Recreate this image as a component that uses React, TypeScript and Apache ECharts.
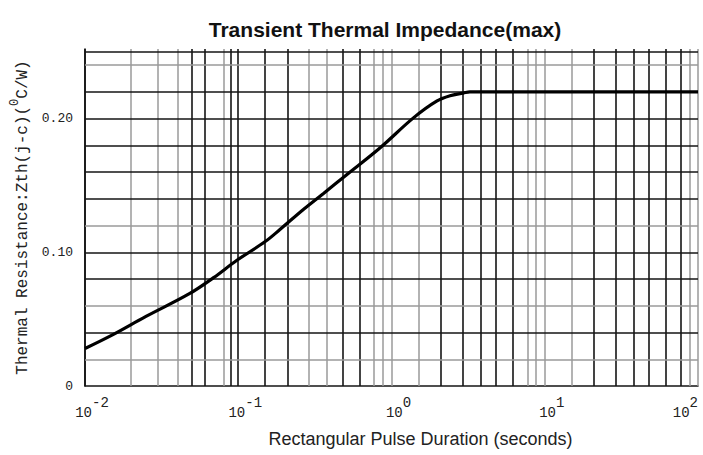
import React, { useEffect, useRef } from "react";
import * as echarts from "echarts";

// Curve data (pulse duration in seconds, Zth in °C/W)
const pulseDurations = [0.01, 0.015, 0.025, 0.048, 0.069, 0.098, 0.15, 0.187, 0.266, 0.36, 0.51, 0.84, 1.39, 1.97, 2.41, 2.94, 3.25, 100];
const thermalImpedance = [0.028, 0.038, 0.052, 0.069, 0.081, 0.094, 0.108, 0.117, 0.132, 0.144, 0.158, 0.178, 0.2005, 0.213, 0.217, 0.219, 0.22, 0.22];

// Axis ticks
const xTickValues = [0.01, 0.1, 1, 10, 100];
const xTickExponents = ["-2", "-1", "0", "1", "2"];
const yTickValues = [0, 0.1, 0.2];
const yTickLabels = ["0", "0.10", "0.20"];

// Grid lines of the chart paper
const gridDecades = [0.01, 0.1, 1, 10];
const gridMultipliers = [1.5, 2.1, 2.9, 3.8, 4.8, 6.2, 7.7, 8.8];
const gridDark = [
  [1, 0, 0, 0, 1, 1, 0, 1],
  [1, 1, 0, 0, 1, 1, 0, 0],
  [0, 1, 1, 1, 1, 1, 0, 0],
  [0, 1, 1, 1, 1, 1, 1, 0],
];
const decadeLines = [0.1, 1, 10, 100];
const decadeDark = [1, 0, 0, 0];
const hLines = [0.02, 0.04, 0.06, 0.08, 0.1, 0.12, 0.14, 0.16, 0.18, 0.2, 0.22, 0.24, 0.252];
const hDark = [0, 1, 0, 1, 1, 0, 1, 1, 1, 1, 1, 0, 1];

const DARK = { color: "#151515", width: 1.6, type: "solid" as const };
const GRAY = { color: "#9a9a9a", width: 1.5, type: "solid" as const };

export default function App() {
  const ref = useRef<HTMLDivElement>(null);

  useEffect(() => {
    if (!ref.current) return;
    const chart = echarts.init(ref.current, undefined, { renderer: "svg" });

    const markData: any[] = [];
    gridDecades.forEach((d, di) => {
      gridMultipliers.forEach((m, mi) => {
        markData.push({ xAxis: d * m, lineStyle: gridDark[di][mi] ? DARK : GRAY });
      });
    });
    decadeLines.forEach((v, i) => {
      markData.push({ xAxis: v, lineStyle: decadeDark[i] ? DARK : GRAY });
    });
    hLines.forEach((v, i) => {
      markData.push({ yAxis: v, lineStyle: hDark[i] ? DARK : GRAY });
    });

    chart.setOption({
      animation: false,
      backgroundColor: "#ffffff",
      title: {
        text: "Transient Thermal Impedance(max)",
        left: 380,
        top: 14,
        textAlign: "center",
        textStyle: {
          fontFamily: "Liberation Sans, Arial, sans-serif",
          fontWeight: "bold",
          fontSize: 21,
          color: "#111",
        },
      },
      grid: { left: 85, right: 5, top: 49, bottom: 69, containLabel: false, outerBoundsMode: "none" },
      xAxis: {
        type: "log",
        logBase: 10,
        min: 0.01,
        max: 100,
        name: "Rectangular Pulse Duration (seconds)",
        nameLocation: "middle",
        nameGap: 44,
        nameTextStyle: {
          fontFamily: "Liberation Sans, Arial, sans-serif",
          fontSize: 18,
          color: "#222",
          padding: [0, 0, 0, 58],
        },
        axisLine: { show: true, lineStyle: { color: "#151515", width: 1.6 } },
        axisTick: { show: false },
        splitLine: { show: false },
        minorSplitLine: { show: false },
        axisLabel: {
          margin: 10,
          padding: [0, 0, 0, 14],
          hideOverlap: false,
          alignMaxLabel: "right",
          formatter: (v: number) => {
            const idx = xTickValues.findIndex((t) => Math.abs(Math.log10(t) - Math.log10(v)) < 1e-6);
            if (idx < 0) return "";
            return `{b|10}{s|${xTickExponents[idx]}}`;
          },
          rich: {
            b: { fontFamily: "Liberation Mono, monospace", fontSize: 14, color: "#222", lineHeight: 24, verticalAlign: "bottom" },
            s: { fontFamily: "Liberation Mono, monospace", fontSize: 14, color: "#222", lineHeight: 24, verticalAlign: "top" },
          },
        },
      },
      yAxis: {
        type: "value",
        min: 0,
        max: 0.252,
        interval: 0.1,
        name: "{a|Thermal Resistance:Zth(j-c)(}{s|0}{a|C/W)}",
        nameLocation: "middle",
        nameGap: 51,
        nameRotate: 90,
        nameTextStyle: {
          rich: {
            a: { fontFamily: "Liberation Mono, monospace", fontSize: 16, color: "#222", lineHeight: 22, verticalAlign: "bottom" },
            s: { fontFamily: "Liberation Mono, monospace", fontSize: 12, color: "#222", lineHeight: 22, verticalAlign: "top" },
          },
        },
        axisLine: { show: true, lineStyle: { color: "#151515", width: 1.6 } },
        axisTick: { show: false },
        splitLine: { show: false },
        axisLabel: {
          margin: 12,
          fontFamily: "Liberation Mono, monospace",
          fontSize: 13,
          color: "#222",
          showMaxLabel: false,
          formatter: (v: number) => {
            const idx = yTickValues.findIndex((t) => Math.abs(t - v) < 1e-9);
            return idx < 0 ? "" : yTickLabels[idx];
          },
        },
      },
      series: [
        {
          type: "line",
          name: "grid",
          data: [],
          silent: true,
          z: 1,
          markLine: {
            silent: true,
            symbol: ["none", "none"],
            label: { show: false },
            emphasis: { disabled: true },
            animation: false,
            data: markData,
          },
        },
        {
          type: "line",
          name: "Zth",
          data: pulseDurations.map((x, i) => [x, thermalImpedance[i]]),
          showSymbol: false,
          smooth: 0.35,
          z: 5,
          lineStyle: { color: "#000", width: 3.2 },
        },
      ],
    });

    return () => chart.dispose();
  }, []);

  return (
    <div
      ref={ref}
      style={{ position: "absolute", left: 0, top: 0, width: 703, height: 455, background: "#fff" }}
    />
  );
}
